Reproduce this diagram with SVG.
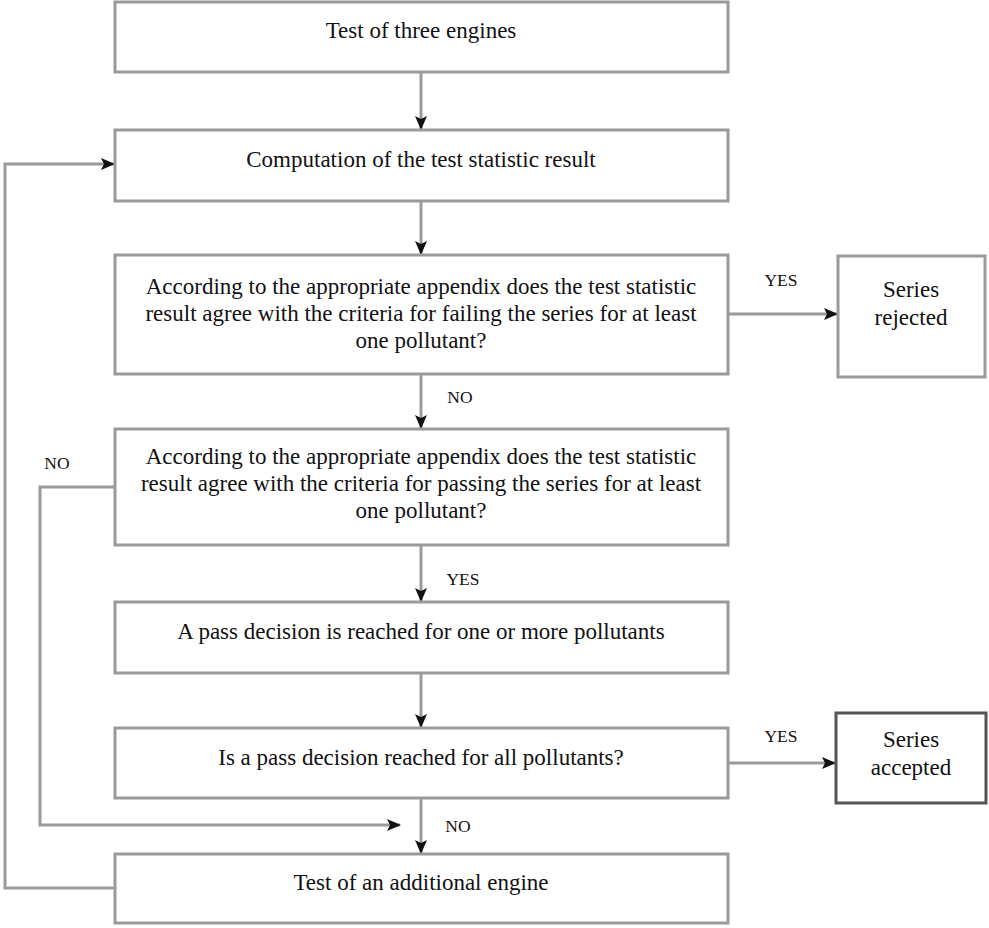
<svg xmlns="http://www.w3.org/2000/svg" width="989" height="928" viewBox="0 0 989 928">
<style>
.box{fill:#fff;stroke:#9a9a9a;stroke-width:3}
.dark{stroke:#555}
.t{font-family:"Liberation Serif","Times New Roman",serif;font-size:23px;fill:#111;text-anchor:middle}
.lbl{font-family:"Liberation Serif","Times New Roman",serif;font-size:17.5px;fill:#111;text-anchor:middle}
.c{fill:none;stroke:#9a9a9a;stroke-width:3}
</style>
<defs>
<marker id="ah" viewBox="0 0 14 12" refX="13" refY="6" markerWidth="14" markerHeight="12" markerUnits="userSpaceOnUse" orient="auto">
<path d="M0,0 L14,6 L0,12 L3,6 Z" fill="#111"/>
</marker>
</defs>
<g id="connectors">
<line class="c" x1="421" y1="72" x2="421" y2="129" marker-end="url(#ah)"/>
<line class="c" x1="421" y1="201" x2="421" y2="254" marker-end="url(#ah)"/>
<line class="c" x1="728" y1="314" x2="837" y2="314" marker-end="url(#ah)"/>
<line class="c" x1="421" y1="374" x2="421" y2="428" marker-end="url(#ah)"/>
<line class="c" x1="421" y1="545" x2="421" y2="601" marker-end="url(#ah)"/>
<line class="c" x1="421" y1="673" x2="421" y2="727" marker-end="url(#ah)"/>
<line class="c" x1="728" y1="763" x2="835" y2="763" marker-end="url(#ah)"/>
<line class="c" x1="421" y1="798" x2="421" y2="853" marker-end="url(#ah)"/>
<polyline class="c" points="115,487 40,487 40,825 400,825" marker-end="url(#ah)"/>
<polyline class="c" points="115,888 5,888 5,164 114,164" marker-end="url(#ah)"/>
<text class="lbl" x="781" y="286">YES</text>
<text class="lbl" x="460" y="403">NO</text>
<text class="lbl" x="57" y="469">NO</text>
<text class="lbl" x="463" y="585">YES</text>
<text class="lbl" x="781" y="742">YES</text>
<text class="lbl" x="458" y="832">NO</text>
</g>
<g id="n1"><rect class="box" x="115" y="2" width="613" height="70"/><text class="t" x="421" y="38">Test of three engines</text></g>
<g id="n2"><rect class="box" x="115" y="130" width="613" height="71"/><text class="t" x="421" y="167">Computation of the test statistic result</text></g>
<g id="n3"><rect class="box" x="115" y="255" width="613" height="119"/>
<text class="t" x="421" y="294">According to the appropriate appendix does the test statistic</text>
<text class="t" x="421" y="321">result agree with the criteria for failing the series for at least</text>
<text class="t" x="421" y="348">one pollutant?</text></g>
<g id="n4"><rect class="box" x="115" y="429" width="613" height="116"/>
<text class="t" x="421" y="464">According to the appropriate appendix does the test statistic</text>
<text class="t" x="421" y="491">result agree with the criteria for passing the series for at least</text>
<text class="t" x="421" y="518">one pollutant?</text></g>
<g id="n5"><rect class="box" x="115" y="602" width="613" height="71"/><text class="t" x="421" y="639">A pass decision is reached for one or more pollutants</text></g>
<g id="n6"><rect class="box" x="115" y="728" width="613" height="70"/><text class="t" x="421" y="765">Is a pass decision reached for all pollutants?</text></g>
<g id="n7"><rect class="box" x="115" y="854" width="613" height="69"/><text class="t" x="421" y="890">Test of an additional engine</text></g>
<g id="rejected"><rect class="box" x="838" y="256" width="147" height="121"/>
<text class="t" x="911" y="297">Series</text><text class="t" x="911" y="325">rejected</text></g>
<g id="accepted"><rect class="box dark" x="836" y="713" width="150" height="90"/>
<text class="t" x="911" y="747">Series</text><text class="t" x="911" y="775">accepted</text></g>
</svg>
